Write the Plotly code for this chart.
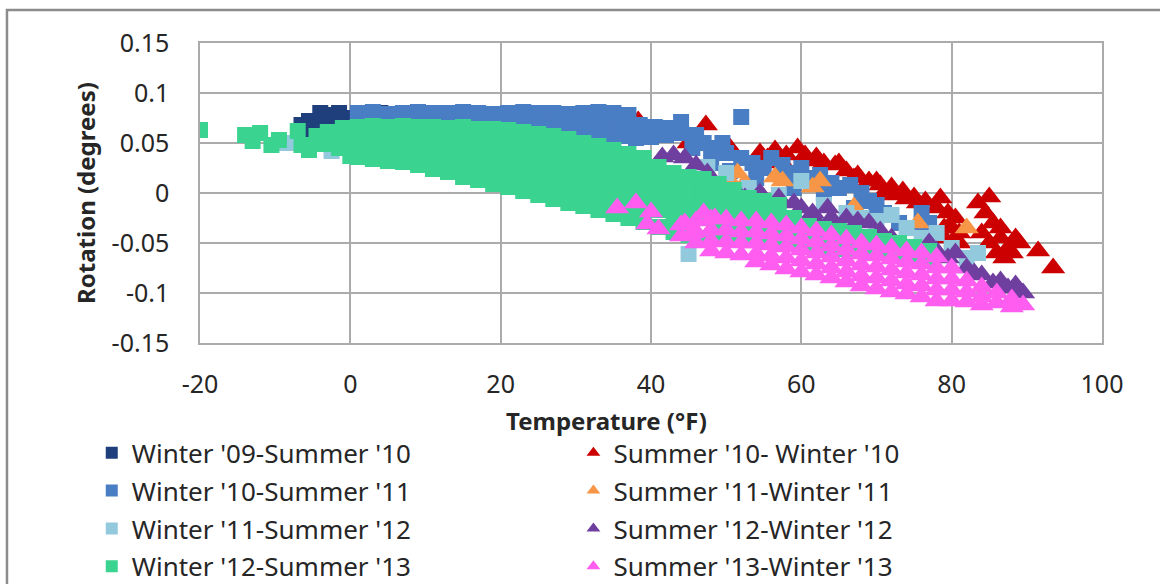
import plotly.graph_objects as go

# ---- data: temperature (F) and rotation (degrees) ----

w09_temp = [-6.5, -5.5, -4.5, -4, -3, -2.5, -1.5, -0.5, 0.5, -5, -3.5, -2, 2, 4, 6]
w09_rot = [0.068, 0.072, 0.066, 0.08, 0.078, 0.07, 0.08, 0.075, 0.07, 0.062, 0.064, 0.065, 0.078, 0.08, 0.079]

s10_temp = [38.3, 45, 47.3, 50.5, 54.5, 56.5, 58, 59.5, 61, 63, 64.5, 66, 67.5, 69, 70.5, 72,
            73.5, 75, 76.5, 78.5, 79.5, 80, 79, 83.5, 85, 84.5, 85.5, 86.5, 87.5, 89, 88, 86,
            91.5, 93.5, 81, 74, 71,
            55.5, 57.5, 60.5, 62, 65, 67, 70, 72.5, 75.5, 78, 80.5, 79, 80.5, 81,
            84, 86.5, 87, 85, 88.5]
s10_rot = [0.072, 0.05, 0.068, 0.045, 0.04, 0.043, 0.038, 0.045, 0.032, 0.03, 0.028, 0.022,
           0.018, 0.012, 0.008, 0.006, 0.002, -0.004, -0.008, -0.005, -0.02, -0.035, -0.045,
           -0.01, -0.004, -0.02, -0.03, -0.045, -0.055, -0.05, -0.06, -0.06, -0.058, -0.075,
           -0.05, -0.006, 0.0,
           0.035, 0.03, 0.038, 0.036, 0.03, 0.015, 0.012, -0.002, -0.01, -0.015, -0.025, -0.035, -0.048, -0.04,
           -0.04, -0.035, -0.065, -0.05, -0.045]

w10_temp = [
    1, 3, 5, 7, 9, 11, 13, 15, 17, 19, 21, 23, 25, 27, 29, 31, 33, 35, 37,
    2, 4, 6, 8, 10, 12, 14, 16, 18, 20, 22, 24, 26, 28, 30, 32, 34, 36, 38, 40,
    30, 32, 34, 36, 38, 40, 42, 44,
    38.5, 40.5, 42, 44, 46, 47, 48, 49.5, 50, 52, 52, 53.5, 55, 56, 57.5, 58.5, 60, 61,
    62.5, 64, 65, 66.5, 68, 69, 70, 71, 76, 77, 45.5, 48, 50.5, 54, 59, 63, 67, 73, 75,
]
w10_rot = [
    0.08, 0.081, 0.079, 0.08, 0.081, 0.08, 0.08, 0.081, 0.08, 0.079, 0.08, 0.081, 0.08, 0.08, 0.079, 0.08, 0.081, 0.08, 0.078,
    0.07, 0.071, 0.069, 0.07, 0.07, 0.071, 0.07, 0.069, 0.07, 0.07, 0.069, 0.07, 0.068, 0.069, 0.068, 0.067, 0.066, 0.066, 0.068, 0.066,
    0.06, 0.059, 0.058, 0.057, 0.055, 0.056, 0.058, 0.06,
    0.068, 0.066, 0.065, 0.071, 0.058, 0.05, 0.045, 0.05, 0.04, 0.076, 0.035, 0.03, 0.025, 0.035, 0.028, 0.02, 0.025, 0.015,
    0.018, 0.01, 0.005, 0.008, 0.0, -0.008, -0.012, -0.02, -0.02, -0.03, 0.045, 0.03, 0.022, 0.015, 0.005, 0.0, -0.015, -0.03, -0.035,
]

s11_temp = [50.5, 51.5, 52.5, 56.5, 57.5, 61.5, 62.5, 67, 75.5, 82]
s11_rot = [0.012, 0.02, 0.01, 0.016, 0.012, 0.006, 0.012, -0.014, -0.03, -0.035]

w11_temp = [-8.5, -2.5, 45, 47.5, 50, 53, 57, 60, 63, 66, 68, 70, 72, 74, 76, 78, 80, 82, 83.5]
w11_rot = [0.05, 0.042, -0.061, 0.026, 0.02, 0.005, -0.002, 0.012, -0.012, -0.02, -0.025,
           -0.028, -0.022, -0.035, -0.045, -0.04, -0.055, -0.065, -0.06]

s12_temp = [41.5, 43, 44.5, 46, 47.5, 51.5, 52.5, 54.5, 57, 59, 60, 61.5, 62, 63.5, 64, 66,
            67.5, 69, 70.5, 72, 77, 78, 79.5, 80.5, 82, 83, 84, 85.5, 86.5, 87.5, 88.5, 89.5]
s12_rot = [0.036, 0.038, 0.035, 0.028, 0.02, 0.0, -0.005, 0.0, -0.005, -0.01, -0.015, -0.02,
           -0.028, -0.015, -0.025, -0.025, -0.028, -0.03, -0.038, -0.045, -0.05, -0.058,
           -0.065, -0.06, -0.075, -0.08, -0.082, -0.09, -0.088, -0.095, -0.092, -0.1]

w12_temp = [
    -20, -14, -12, -13, -10.5, -9.5, -7, -6.5, -5.5, -4.5, -3.5, -3, -2, -1.5, -1, 0, 0, -0.5,
    1, 1, 1, 1,
    3, 3, 3, 3,
    5, 5, 5, 5,
    7, 7, 7, 7,
    9, 9, 9, 9,
    11, 11, 11, 11, 11,
    13, 13, 13, 13, 13,
    15, 15, 15, 15, 15,
    17, 17, 17, 17, 17,
    19, 19, 19, 19, 19,
    21, 21, 21, 21, 21,
    23, 23, 23, 23, 23, 23,
    25, 25, 25, 25, 25, 25,
    27, 27, 27, 27, 27, 27,
    29, 29, 29, 29, 29, 29,
    31, 31, 31, 31, 31, 31,
    33, 33, 33, 33, 33, 33,
    35, 35, 35, 35, 35, 35,
    37, 37, 37, 37, 37, 37,
    39, 39, 39, 39, 39, 39,
    41, 41, 41, 41, 41,
    43, 43, 43, 43, 43,
    45, 45, 45, 45, 45,
    47, 47, 47, 47, 47,
    49, 49, 49, 49, 49,
    51, 51, 51, 51, 51,
    53, 53, 53, 53,
    55, 55, 55, 55,
    57, 57, 57, 57,
    59, 59, 59,
    61, 61, 61,
    63, 63, 63,
    65, 65, 65,
    67, 67, 67,
    69, 69, 69,
    71, 71,
    73, 73,
    75, 75,
    77, 77,
]
w12_rot = [
    0.063, 0.058, 0.06, 0.052, 0.048, 0.053, 0.062, 0.048, 0.043, 0.057, 0.049, 0.061, 0.054, 0.045, 0.065, 0.056, 0.037, 0.047,
    0.066, 0.055, 0.045, 0.036,
    0.067, 0.056, 0.045, 0.034,
    0.066, 0.055, 0.043, 0.032,
    0.067, 0.056, 0.044, 0.031,
    0.066, 0.054, 0.041, 0.028,
    0.066, 0.054, 0.042, 0.03, 0.024,
    0.065, 0.053, 0.041, 0.03, 0.021,
    0.066, 0.054, 0.042, 0.029, 0.016,
    0.064, 0.052, 0.04, 0.027, 0.013,
    0.064, 0.051, 0.037, 0.023, 0.009,
    0.063, 0.05, 0.036, 0.022, 0.006,
    0.061, 0.048, 0.035, 0.022, 0.009, 0.002,
    0.059, 0.046, 0.033, 0.02, 0.007, -0.002,
    0.057, 0.044, 0.031, 0.018, 0.005, -0.006,
    0.054, 0.041, 0.028, 0.015, 0.002, -0.01,
    0.05, 0.037, 0.024, 0.011, -0.002, -0.013,
    0.047, 0.034, 0.021, 0.008, -0.005, -0.017,
    0.043, 0.03, 0.017, 0.004, -0.009, -0.021,
    0.039, 0.026, 0.013, 0.0, -0.013, -0.025,
    0.035, 0.022, 0.009, -0.004, -0.017, -0.029,
    0.026, 0.012, -0.002, -0.017, -0.034,
    0.02, 0.006, -0.009, -0.024, -0.039,
    0.016, 0.002, -0.013, -0.028, -0.042,
    0.014, 0.001, -0.012, -0.025, -0.045,
    0.009, -0.004, -0.017, -0.03, -0.045,
    0.003, -0.01, -0.022, -0.034, -0.045,
    -0.005, -0.018, -0.03, -0.045,
    -0.008, -0.021, -0.034, -0.048,
    -0.012, -0.025, -0.038, -0.05,
    -0.025, -0.038, -0.05,
    -0.033, -0.044, -0.052,
    -0.036, -0.047, -0.055,
    -0.038, -0.049, -0.056,
    -0.04, -0.051, -0.058,
    -0.044, -0.055, -0.06,
    -0.048, -0.058,
    -0.05, -0.062,
    -0.054, -0.062,
    -0.058, -0.064,
]

s13_temp = [
    35.5, 38, 39.5, 40, 41, 44.5, 45.5, 47, 48.5,
    44, 44,
    46, 46, 46,
    48, 48, 48, 48,
    50, 50, 50, 50,
    52, 52, 52, 52,
    54, 54, 54, 54, 54,
    56, 56, 56, 56, 56,
    58, 58, 58, 58, 58,
    60, 60, 60, 60, 60,
    62, 62, 62, 62, 62,
    64, 64, 64, 64, 64,
    66, 66, 66, 66, 66,
    68, 68, 68, 68, 68,
    70, 70, 70, 70, 70,
    72, 72, 72, 72, 72,
    74, 74, 74, 74, 74,
    76, 76, 76, 76, 76,
    78, 78, 78, 78, 78,
    80, 80, 80, 80,
    82, 82, 82,
    84, 84, 84,
    86, 86,
    88, 88,
    89.5,
]
s13_rot = [
    -0.015, -0.01, -0.031, -0.019, -0.036, -0.03, -0.04, -0.02, -0.025,
    -0.032, -0.043,
    -0.028, -0.039, -0.05,
    -0.026, -0.037, -0.048, -0.058,
    -0.026, -0.037, -0.049, -0.06,
    -0.028, -0.039, -0.05, -0.062,
    -0.028, -0.039, -0.05, -0.061, -0.069,
    -0.03, -0.041, -0.052, -0.063, -0.072,
    -0.032, -0.043, -0.054, -0.065, -0.076,
    -0.035, -0.046, -0.057, -0.068, -0.079,
    -0.038, -0.049, -0.06, -0.071, -0.082,
    -0.042, -0.053, -0.064, -0.075, -0.085,
    -0.046, -0.057, -0.068, -0.079, -0.089,
    -0.05, -0.061, -0.072, -0.083, -0.093,
    -0.052, -0.063, -0.074, -0.085, -0.096,
    -0.055, -0.066, -0.077, -0.088, -0.099,
    -0.058, -0.069, -0.08, -0.091, -0.101,
    -0.06, -0.071, -0.082, -0.093, -0.104,
    -0.064, -0.075, -0.086, -0.097, -0.108,
    -0.075, -0.086, -0.097, -0.108,
    -0.088, -0.099, -0.109,
    -0.094, -0.104, -0.112,
    -0.1, -0.11,
    -0.106, -0.114,
    -0.112,
]

x_ticks = [-20, 0, 20, 40, 60, 80, 100]
x_tick_labels = ["-20", "0", "20", "40", "60", "80", "100"]
y_ticks = [-0.15, -0.1, -0.05, 0, 0.05, 0.1, 0.15]
y_tick_labels = ["-0.15", "-0.1", "-0.05", "0", "0.05", "0.1", "0.15"]

FONT = "Noto Sans"
TEXT = "#262626"
GRID = "#ababab"

# drawing order follows the Excel series order (legend is filled row by row)
series = [
    ("Winter '09-Summer '10", w09_temp, w09_rot, "square", "#1f3f7c", "legend"),
    ("Summer '10- Winter '10", s10_temp, s10_rot, "triangle-up", "#cc0000", "legend2"),
    ("Winter '10-Summer '11", w10_temp, w10_rot, "square", "#4a7ec4", "legend"),
    ("Summer '11-Winter '11", s11_temp, s11_rot, "triangle-up", "#f79646", "legend2"),
    ("Winter '11-Summer '12", w11_temp, w11_rot, "square", "#93c9dc", "legend"),
    ("Summer '12-Winter '12", s12_temp, s12_rot, "triangle-up", "#6f3fa0", "legend2"),
    ("Winter '12-Summer '13", w12_temp, w12_rot, "square", "#3ad38f", "legend"),
    ("Summer '13-Winter '13", s13_temp, s13_rot, "triangle-up", "#ff5cf0", "legend2"),
]

fig = go.Figure()
for name, xs, ys, sym, col, leg in series:
    fig.add_trace(go.Scatter(
        x=xs, y=ys, mode="markers", name=name, legend=leg, legendgroup=name,
        marker=dict(symbol=sym, color=col, size=16 if sym == "square" else 21,
                    line=dict(width=0)),
    ))

fig.update_layout(
    width=1160, height=584,
    margin=dict(l=200, r=58, t=43, b=241, autoexpand=False),
    paper_bgcolor="white", plot_bgcolor="white",
    font=dict(family=FONT, color=TEXT, size=24),
    showlegend=True,
    legend=dict(x=-0.12, y=-0.288, xanchor="left", yanchor="top", orientation="v",
                tracegroupgap=1, itemsizing="constant", bgcolor="rgba(0,0,0,0)",
                font=dict(size=26, family=FONT, color=TEXT)),
    legend2=dict(x=0.414, y=-0.288, xanchor="left", yanchor="top", orientation="v",
                 tracegroupgap=1, itemsizing="constant", bgcolor="rgba(0,0,0,0)",
                 font=dict(size=26, family=FONT, color=TEXT)),
    shapes=[dict(type="rect", xref="paper", yref="paper", x0=-0.214, x1=1.08,
                 y0=-0.86, y1=1.11, line=dict(color="#8c8c8c", width=2.5), layer="below")],
    annotations=[
        dict(text="<b>Temperature (°F)</b>", xref="paper", yref="paper", x=0.451, y=-0.257,
             xanchor="center", yanchor="middle", showarrow=False,
             font=dict(size=24, family=FONT, color=TEXT)),
        dict(text="<b>Rotation (degrees)</b>", xref="paper", yref="paper", x=-0.1275, y=0.5,
             xanchor="center", yanchor="middle", textangle=-90, showarrow=False,
             font=dict(size=24, family=FONT, color=TEXT)),
    ],
)

fig.update_xaxes(range=[-20, 100], tickvals=x_ticks, ticktext=x_tick_labels,
                 showgrid=True, gridcolor=GRID, gridwidth=1.5, zeroline=False,
                 showline=True, mirror=True, linecolor=GRID, linewidth=1.5,
                 ticks="", ticklabelstandoff=18, tickfont=dict(size=25))
fig.update_yaxes(range=[-0.15, 0.15], tickvals=y_ticks, ticktext=y_tick_labels,
                 showgrid=True, gridcolor=GRID, gridwidth=1.5, zeroline=False,
                 showline=True, mirror=True, linecolor=GRID, linewidth=1.5,
                 ticks="", ticklabelstandoff=24, tickfont=dict(size=25))

# the page's default body margin would push the figure 8px right/down
fig.write_html("out.html", config={"displayModeBar": False},
               post_script="document.body.style.margin='0';")
